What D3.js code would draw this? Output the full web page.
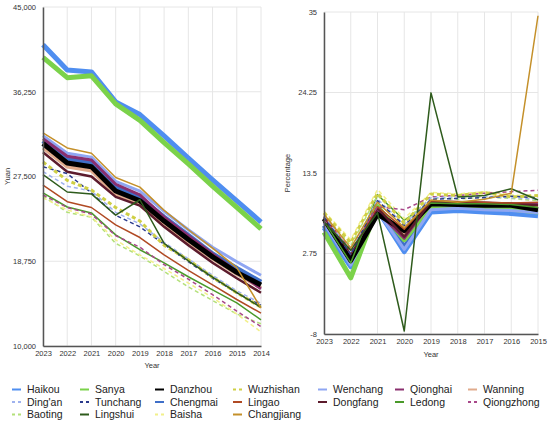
<!DOCTYPE html>
<html><head><meta charset="utf-8">
<script src="https://cdn.jsdelivr.net/npm/d3@7"></script>
<style>
html,body{margin:0;padding:0;background:#fff;}
svg{display:block;font-family:"Liberation Sans",Arial,sans-serif;}
</style></head>
<body><svg id="c" width="550" height="425"></svg>
<script>
// ---------- DATA ----------
const cities = ["Haikou","Sanya","Danzhou","Wuzhishan","Wenchang","Qionghai","Wanning",
  "Ding'an","Tunchang","Chengmai","Lingao","Dongfang","Ledong","Qiongzhong",
  "Baoting","Lingshui","Baisha","Changjiang"];
const incomeYears = [2023,2022,2021,2020,2019,2018,2017,2016,2015,2014];
const growthYears = [2023,2022,2021,2020,2019,2018,2017,2016,2015];
const incomeTicks = [10000,18750,27500,36250,45000];
const growthTicks = [-8,2.75,13.5,24.25,35];

// income (yuan), order = cities
const incomeData = [
  [41100,38500,38300,35200,33900,31700,29400,27150,24980,22800], // Haikou
  [39800,37700,37900,35000,33300,31000,28800,26500,24300,22100], // Sanya
  [30900,28900,28500,26000,25000,22900,21000,19200,17600,16300], // Danzhou
  [29000,27100,26100,24300,22900,20400,18900,17100,15500,14000], // Wuzhishan
  [31700,29900,29500,27000,26000,23900,22000,20200,18700,17300], // Wenchang
  [31400,29600,29200,26700,25600,23300,21400,19500,17700,15900], // Qionghai
  [30450,28500,28100,25600,24600,22500,20700,19000,17400,16000], // Wanning
  [28000,26500,26000,23800,22600,20700,19000,17300,15700,14400], // Ding'an
  [28500,27800,25800,23500,22300,20500,18700,17000,15500,14200], // Tunchang
  [31200,29300,28900,26400,25300,23300,21400,19500,18000,16600], // Chengmai
  [26600,24900,24300,22500,21200,19400,17800,16300,14800,13400], // Lingao
  [30000,28000,27500,25400,24500,22300,20400,18600,17000,15500], // Dongfang
  [25800,24350,23740,21470,19940,18590,17150,15800,14450,12700], // Ledong
  [25600,24300,23600,21400,20200,18400,16900,15300,13600,12000], // Qiongzhong
  [25500,23800,23300,20600,19300,17700,16100,14700,13300,12300], // Baoting
  [27700,25900,25700,23500,25100,20600,18800,17100,15500,14000], // Lingshui
  [25300,24050,23330,20950,19400,18000,16500,15000,13300,11460], // Baisha
  [32000,30450,29900,27400,26400,24000,22000,20100,18100,13900]  // Changjiang
];

// growth (%), order = cities
const growthData = [
  [6.2,1.0,8.6,3.0,8.3,8.5,8.3,8.1,7.8],      // Haikou
  [5.6,-0.5,9.0,4.6,9.0,9.2,9.0,8.7,8.3],     // Sanya
  [7.4,1.8,8.0,5.8,9.4,9.3,9.2,9.2,8.6],      // Danzhou
  [8.2,4.2,10.8,6.8,10.7,10.5,10.9,10.3,10.5],// Wuzhishan
  [6.8,1.2,8.4,3.3,8.6,8.8,8.6,8.5,8.2],      // Wenchang
  [7.0,2.2,8.3,4.8,9.6,9.5,9.5,9.4,9.4],      // Qionghai
  [7.3,2.5,8.6,5.3,9.6,9.4,9.3,9.3,9.0],      // Wanning
  [7.8,3.0,10.0,6.6,10.2,10.3,10.4,10.2,10.0],// Ding'an
  [7.6,2.6,9.8,6.5,10.0,10.1,10.2,10.4,10.2], // Tunchang
  [6.5,1.5,8.8,3.6,8.5,8.8,8.6,8.4,8.2],      // Chengmai
  [7.8,3.0,9.0,6.0,9.8,9.7,9.6,9.5,9.6],      // Lingao
  [7.6,2.8,8.8,5.0,9.7,9.6,9.5,9.4,9.2],      // Dongfang
  [7.1,1.5,10.6,7.2,9.5,9.4,9.4,9.3,8.9],     // Ledong
  [7.2,3.4,9.0,8.6,10.3,10.5,10.8,11.0,11.2], // Qiongzhong
  [8.0,3.8,10.5,7.0,10.2,10.0,10.3,10.1,9.8], // Baoting
  [7.0,3.2,8.2,-7.6,24.2,10.3,10.5,11.4,9.9], // Lingshui
  [8.4,4.6,11.3,7.4,10.9,10.7,11.0,10.6,10.3],// Baisha
  [8.0,3.5,9.6,6.2,9.9,9.6,10.0,10.8,34.5]    // Changjiang
];

// ---------- STYLE ----------
const colors = {
  "Haikou":"#4f8ef0","Sanya":"#7bd24a","Danzhou":"#000000","Wuzhishan":"#cfcf45",
  "Wenchang":"#8fa6f2","Qionghai":"#8a2f6e","Wanning":"#e0ab8c","Ding'an":"#9fb2ee",
  "Tunchang":"#2a3a8c","Chengmai":"#3f6fc8","Lingao":"#b04a24","Dongfang":"#5c1b2c",
  "Ledong":"#4a9a2a","Qiongzhong":"#a8488a","Baoting":"#b3e07a","Lingshui":"#2e5b1c",
  "Baisha":"#f2f08a","Changjiang":"#c4902a"
};
const widths = {
  "Haikou":5,"Sanya":5,"Danzhou":5,"Chengmai":5,"Wenchang":3,"Qionghai":3,"Wanning":3.5,
  "Dongfang":2.5,"Wuzhishan":3
};
const dashed = new Set(["Wuzhishan","Ding'an","Tunchang","Qiongzhong","Baoting","Baisha"]);
const drawOrder = ["Wanning","Chengmai","Haikou","Sanya","Wenchang","Qionghai","Danzhou","Dongfang",
  "Ledong","Lingao","Baoting","Baisha","Qiongzhong","Ding'an","Tunchang","Wuzhishan","Lingshui","Changjiang"];

const svg = d3.select("#c");
const font = 7.5;

function drawChart(cfg){
  const x = d3.scalePoint().domain(cfg.years).range([cfg.x0, cfg.x1]);
  const y = d3.scaleLinear().domain(cfg.domain).range([cfg.y1, cfg.y0]);
  const g = svg.append("g");
  // grid
  g.selectAll(".vg").data(cfg.years).join("line")
    .attr("x1",d=>x(d)).attr("x2",d=>x(d)).attr("y1",cfg.y0).attr("y2",cfg.y1)
    .attr("stroke","#e6e6e6").attr("stroke-width",1);
  g.selectAll(".hg").data(cfg.grid).join("line")
    .attr("x1",cfg.x0).attr("x2",cfg.x1).attr("y1",d=>y(d)).attr("y2",d=>y(d))
    .attr("stroke","#e6e6e6").attr("stroke-width",1);
  // lines
  const line = d3.line().x((d,i)=>x(cfg.years[i])).y(d=>y(d));
  drawOrder.forEach(name=>{
    const idx = cities.indexOf(name);
    g.append("path").datum(cfg.data[idx])
      .attr("d",line).attr("fill","none")
      .attr("stroke",colors[name])
      .attr("stroke-width",widths[name]||1.5)
      .attr("stroke-linejoin","round")
      .attr("stroke-dasharray",dashed.has(name)?"4,3":null);
  });
  // axes
  const ax = g.append("g").attr("transform",`translate(${cfg.x0},0)`)
    .call(d3.axisLeft(y).tickValues(cfg.ticks).tickSize(0).tickPadding(7).tickFormat(cfg.fmt));
  ax.select(".domain").attr("stroke","#555").attr("stroke-width",1.5);
  ax.selectAll("text").attr("font-size",font).attr("fill","#333").attr("font-family","Liberation Sans, Arial, sans-serif");
  const bx = g.append("g").attr("transform",`translate(0,${cfg.y1})`)
    .call(d3.axisBottom(x).tickSize(0).tickPadding(5));
  bx.select(".domain").attr("stroke","#555").attr("stroke-width",1.5);
  bx.selectAll("text").attr("font-size",font).attr("fill","#333").attr("font-family","Liberation Sans, Arial, sans-serif");
  // titles
  g.append("text").attr("x",(cfg.x0+cfg.x1)/2).attr("y",cfg.y1+cfg.xtitleDy)
    .attr("text-anchor","middle").attr("font-size",font).attr("fill","#333").text("Year");
  g.append("text").attr("transform",`translate(${cfg.ytitleX},${(cfg.y0+cfg.y1)/2}) rotate(-90)`)
    .attr("text-anchor","middle").attr("font-size",font).attr("fill","#333").text(cfg.ytitle);
}

drawChart({years:incomeYears,data:incomeData,domain:[10000,45000],ticks:incomeTicks,grid:incomeTicks,
  x0:43,x1:261,y0:7,y1:346,fmt:d3.format(","),ytitle:"Yuan",ytitleX:10,xtitleDy:22});
drawChart({years:growthYears,data:growthData,domain:[-8,35],ticks:growthTicks,grid:growthTicks.concat([0]),
  x0:324,x1:538,y0:12,y1:334,fmt:d=>String(d),ytitle:"Percentage",ytitleX:290,xtitleDy:23});

// legend
const colX = [27,95,170,248,333,410,483];
const rowY = [389.5,402,414.5];
const lg = svg.append("g");
cities.forEach((name,i)=>{
  const c = i%7, r = Math.floor(i/7);
  const tx = colX[c], ty = rowY[r];
  lg.append("line").attr("x1",tx-15).attr("x2",tx-6).attr("y1",ty).attr("y2",ty)
    .attr("stroke",colors[name]).attr("stroke-width",2)
    .attr("stroke-dasharray",dashed.has(name)?"3,3":null);
  lg.append("text").attr("x",tx).attr("y",ty).attr("dy","0.35em")
    .attr("font-size",10.5).attr("fill","#222").text(name);
});
</script></body></html>
